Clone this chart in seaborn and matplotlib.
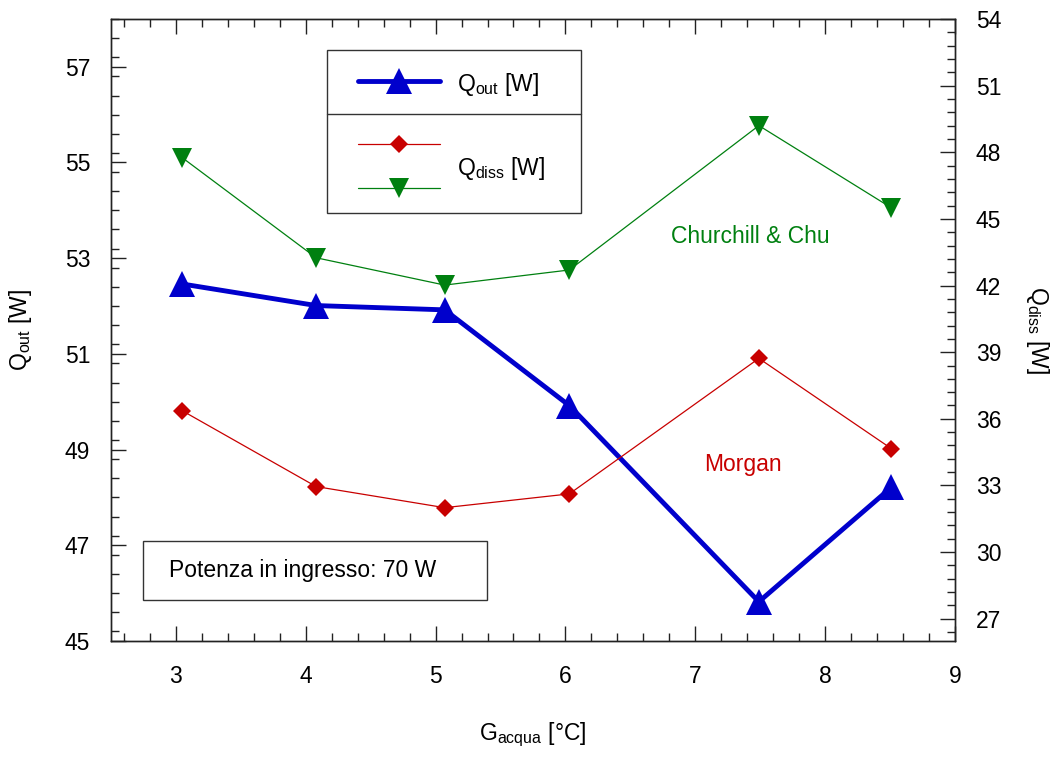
import matplotlib
matplotlib.use("Agg")
import matplotlib.pyplot as plt
from matplotlib.lines import Line2D
from matplotlib.patches import Rectangle
from matplotlib.ticker import MultipleLocator
import pandas as pd
import seaborn as sns

# dati
g_acqua = [3.05, 4.08, 5.07, 6.03, 7.49, 8.51]
q_out = [52.46, 52.01, 51.92, 49.92, 45.82, 48.21]
q_diss_morgan = [36.36, 32.95, 32.0, 32.62, 38.72, 34.66]
q_diss_churchill = [47.75, 43.25, 42.02, 42.7, 49.2, 45.5]

sns.set_theme(style="ticks")
plt.rcParams["font.family"] = ["Liberation Sans", "DejaVu Sans"]
plt.rcParams["mathtext.fontset"] = "custom"
plt.rcParams["mathtext.rm"] = "Liberation Sans"
plt.rcParams["mathtext.it"] = "Liberation Sans"
plt.rcParams["text.color"] = "black"
plt.rcParams["axes.labelcolor"] = "black"

FS = 16.5
BLU = "#0000cc"
ROSSO = "#c80000"
VERDE = "#008010"

df = pd.DataFrame(
    {
        "g": g_acqua,
        "q_out": q_out,
        "morgan": q_diss_morgan,
        "churchill": q_diss_churchill,
    }
)

fig = plt.figure(figsize=(10.54, 7.58), dpi=100)
ax = fig.add_axes([0.1053, 0.1544, 0.8007, 0.8206])
ax2 = ax.twinx()

sns.lineplot(data=df, x="g", y="q_out", ax=ax, color=BLU, lw=3.5,
             marker="^", markersize=19, markeredgewidth=0)
sns.lineplot(data=df, x="g", y="morgan", ax=ax2, color=ROSSO, lw=0.9,
             marker="D", markersize=9, markeredgewidth=0)
sns.lineplot(data=df, x="g", y="churchill", ax=ax2, color=VERDE, lw=0.9,
             marker="v", markersize=14, markeredgewidth=0)

ax.set_xlim(2.5, 9)
ax.set_ylim(45, 58)
ax2.set_ylim(26, 54)

ax.xaxis.set_major_locator(MultipleLocator(1))
ax.xaxis.set_minor_locator(MultipleLocator(0.2))
ax.yaxis.set_major_locator(MultipleLocator(2))
ax.yaxis.set_minor_locator(MultipleLocator(0.4))
ax2.yaxis.set_major_locator(MultipleLocator(3))
ax2.yaxis.set_minor_locator(MultipleLocator(0.6))

for a in (ax, ax2):
    for s in a.spines.values():
        s.set_visible(True)
        s.set_linewidth(1.0)
        s.set_color("#222222")
    a.tick_params(which="both", direction="in", color="#222222",
                  labelcolor="black", labelsize=FS)
    a.tick_params(which="major", length=11, width=1)
    a.tick_params(which="minor", length=5.5, width=1)
    a.grid(False)

ax.tick_params(axis="x", which="both", top=True, pad=17)
ax.tick_params(axis="y", which="both", right=False, pad=15)
ax2.tick_params(axis="y", which="both", left=False, right=True, pad=15)
ax.set_ylim(45, 58)
ax.set_yticks([45, 47, 49, 51, 53, 55, 57])

ax.set_xlabel(r"G$_{\mathrm{acqua}}$ [°C]", fontsize=FS, labelpad=24)
ax.set_ylabel(r"Q$_{\mathrm{out}}$ [W]", fontsize=FS, labelpad=22)
ax2.set_ylabel(r"Q$_{\mathrm{diss}}$ [W]", fontsize=FS, rotation=270, labelpad=36)

# etichette delle correlazioni
ax2.text(0.757, 0.651, "Churchill & Chu", transform=ax.transAxes, color=VERDE,
         fontsize=FS, ha="center", va="center")
ax2.text(0.749, 0.283, "Morgan", transform=ax.transAxes, color=ROSSO,
         fontsize=FS, ha="center", va="center")

# riquadro potenza in ingresso
ax2.add_patch(Rectangle((0.038, 0.066), 0.407, 0.095, transform=ax.transAxes,
                        fill=True, facecolor="white", edgecolor="#333333", lw=1.0, zorder=5))
ax2.text(0.069, 0.1135, "Potenza in ingresso: 70 W", transform=ax.transAxes,
         fontsize=FS, ha="left", va="center", zorder=6)

# legenda disegnata a mano (due righe)
ax2.add_patch(Rectangle((0.256, 0.688), 0.301, 0.262, transform=ax.transAxes,
                        facecolor="white", edgecolor="#333333", lw=1.0, zorder=5))
ax2.add_line(Line2D([0.256, 0.557], [0.847, 0.847], transform=ax.transAxes,
                    color="#333333", lw=1.0, zorder=6))
ax2.add_line(Line2D([0.293, 0.39], [0.901, 0.901], transform=ax.transAxes,
                    color=BLU, lw=3.5, zorder=6))
ax2.add_line(Line2D([0.3415], [0.901], transform=ax.transAxes, color=BLU,
                    marker="^", markersize=19, markeredgewidth=0, zorder=7))
ax2.add_line(Line2D([0.293, 0.39], [0.799, 0.799], transform=ax.transAxes,
                    color=ROSSO, lw=0.9, zorder=6))
ax2.add_line(Line2D([0.3415], [0.799], transform=ax.transAxes, color=ROSSO,
                    marker="D", markersize=9, markeredgewidth=0, zorder=7))
ax2.add_line(Line2D([0.293, 0.39], [0.728, 0.728], transform=ax.transAxes,
                    color=VERDE, lw=0.9, zorder=6))
ax2.add_line(Line2D([0.3415], [0.728], transform=ax.transAxes, color=VERDE,
                    marker="v", markersize=14, markeredgewidth=0, zorder=7))
ax2.text(0.41, 0.895, r"Q$_{\mathrm{out}}$ [W]", transform=ax.transAxes,
         fontsize=FS, ha="left", va="center", zorder=7)
ax2.text(0.41, 0.76, r"Q$_{\mathrm{diss}}$ [W]", transform=ax.transAxes,
         fontsize=FS, ha="left", va="center", zorder=7)

fig.savefig("out.png", dpi=100)
